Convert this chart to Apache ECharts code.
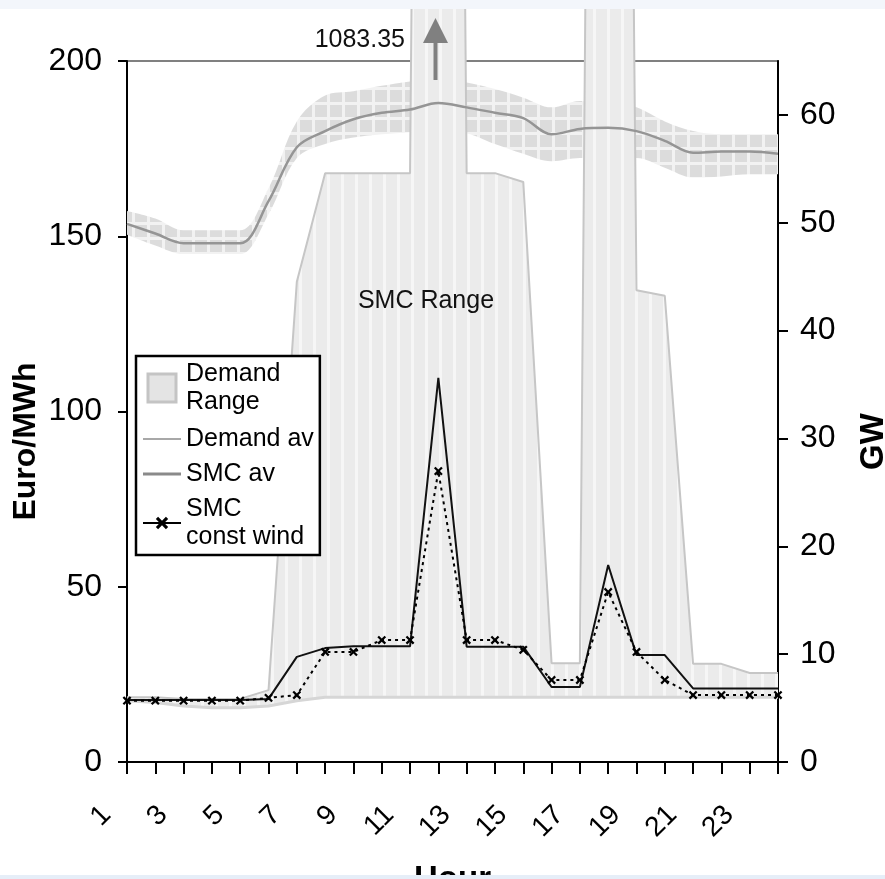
<!DOCTYPE html>
<html><head><meta charset="utf-8">
<script src="https://cdn.jsdelivr.net/npm/echarts@6/dist/echarts.min.js"></script>
<style>html,body{margin:0;padding:0;background:#fff}#c{width:885px;height:879px}</style>
</head><body><div id="c"></div>
<script>
const hours = ['1','2','3','4','5','6','7','8','9','10','11','12','13','14','15','16','17','18','19','20','21','22','23','24'];
const leftTicks = [0, 50, 100, 150, 200];
const rightTicks = [0, 10, 20, 30, 40, 50, 60];
// SMC range (Euro/MWh)
const smcRangeLow  = [17.5,17,16,15.5,15.5,16,17.5,18.5,18.5,18.5,18.5,18.5,18.5,18.5,18.5,18.5,18.5,18.5,18.5,18.5,18.5,18.5,18.5,18.5];
const smcRangeHigh = [18.5,18.5,18,18,18,20.5,137,168,168,168,168,1083.35,168,168,165.5,28.2,28.2,1000,134.6,133,28,28,25.4,25.4];
// SMC lines (Euro/MWh)
const smcAv        = [17.7,17.7,17.7,17.7,17.7,18,30,32.5,33,33,33,109.6,32.9,32.9,32.9,21.4,21.4,56.2,30.5,30.5,21,21,21,21];
const smcConstWind = [17.5,17.5,17.5,17.5,17.5,18.3,19.1,31.4,31.4,34.8,34.8,83,34.8,34.8,32,23.4,23.4,48.5,31.4,23.4,19.1,19.1,19.1,19.1];
// Demand (GW)
const demandAv   = [49.9,49.0,48.1,48.1,48.1,52.0,57.0,58.5,59.6,60.2,60.5,61.1,60.7,60.2,59.7,58.2,58.7,58.8,58.5,57.6,56.5,56.6,56.6,56.4];
const demandLow  = [48.9,47.9,47.1,47.1,47.1,50.8,56.0,57.3,57.9,58.2,58.4,58.5,58.3,57.3,56.4,55.7,56.0,56.0,56.0,55.1,54.2,54.3,54.5,54.5];
const demandHigh = [51.1,50.4,49.3,49.3,49.3,53.2,59.4,61.8,62.2,62.7,63.1,63.5,63.0,62.4,61.6,60.7,61.3,61.3,60.7,59.4,58.5,58.2,58.2,58.2];

const FONT = '"Liberation Sans", Arial, Helvetica, sans-serif';

function stripePattern(){
  const c = document.createElement('canvas'); c.width = 14; c.height = 4;
  const g = c.getContext('2d');
  g.fillStyle = '#ebebeb'; g.fillRect(0,0,14,4);
  g.fillStyle = '#f6f6f6'; g.fillRect(5,0,3,4);
  return c;
}
function checkerPattern(){
  const c = document.createElement('canvas'); c.width = 15; c.height = 15;
  const g = c.getContext('2d');
  g.fillStyle = '#f2f2f2'; g.fillRect(0,0,15,15);
  g.fillStyle = '#dcdcdc'; g.fillRect(0,0,12,12);
  return c;
}
const xSymbol = 'path://M0,0M20,20M4.5,6.5L6.5,4.5L10,8L13.5,4.5L15.5,6.5L12,10L15.5,13.5L13.5,15.5L10,12L6.5,15.5L4.5,13.5L8,10Z';

const chart = echarts.init(document.getElementById('c'), null, {renderer:'canvas'});
const option = {
  animation: false,
  backgroundColor: '#fff',
  textStyle: { fontFamily: FONT },
  grid: { left: 127, right: 107, top: 61, bottom: 117, show: true, borderColor: '#808080', borderWidth: 2,
          containLabel: false, outerBoundsMode: 'none' },
  legend: {
    orient: 'vertical', left: 136, top: 356,
    backgroundColor: '#fff', borderColor: '#000', borderWidth: 2.5, borderRadius: 0,
    padding: [2, 6, 4, 6], itemGap: 7, itemWidth: 38, itemHeight: 28,
    textStyle: { fontFamily: FONT, fontSize: 25, color: '#000', lineHeight: 28 },
    formatter: function(name){ return ({'Demand Range':'Demand\nRange','SMC const wind':'SMC\nconst wind'})[name] || name; },
    data: [
      { name: 'Demand Range', icon: 'path://M0,0H10V10H0Z', itemStyle: { color: '#e4e4e4', borderColor: '#c4c4c4', borderWidth: 3 },
        textStyle: { fontFamily: FONT, fontSize: 25, color: '#000', lineHeight: 28, padding: [0, 0, 4, 0] } },
      { name: 'Demand av', icon: 'path://M0,0H38V2H0Z', itemStyle: { color: '#a8a8a8', borderWidth: 0 } },
      { name: 'SMC av', icon: 'path://M0,0H38V3H0Z', itemStyle: { color: '#8a8a8a', borderWidth: 0 } },
      { name: 'SMC const wind', lineStyle: { color: '#000', width: 2, type: 'solid' } }
    ]
  },
  xAxis: {
    type: 'category', data: hours, boundaryGap: false,
    axisLine: { show: true, lineStyle: { color: '#000', width: 2 } },
    axisTick: { show: true, interval: 0, length: 12, lineStyle: { color: '#000', width: 2 } },
    axisLabel: { interval: 1, rotate: 45, margin: 28, padding: [0, 29, 0, 0], fontSize: 28, color: '#000', fontFamily: FONT },
    name: 'Hour', nameLocation: 'middle', nameGap: 101, nameMoveOverlap: false,
    nameTextStyle: { fontSize: 33, fontWeight: 'bold', color: '#000', fontFamily: FONT }
  },
  yAxis: [
    {
      type: 'value', min: 0, max: 200, interval: 50, position: 'left',
      axisLine: { show: true, lineStyle: { color: '#000', width: 2 } },
      axisTick: { show: true, length: 9, lineStyle: { color: '#000', width: 2 } },
      axisLabel: { margin: 25, fontSize: 32, color: '#000', fontFamily: FONT },
      splitLine: { show: false },
      name: 'Euro/MWh', nameLocation: 'middle', nameGap: 85, nameMoveOverlap: false,
      nameTextStyle: { fontSize: 32, fontWeight: 'bold', color: '#000', fontFamily: FONT, padding: [0, 60, 0, 0] }
    },
    {
      type: 'value', min: 0, max: 65, interval: 10, position: 'right',
      axisLine: { show: true, lineStyle: { color: '#000', width: 2 } },
      axisTick: { show: true, length: 10, lineStyle: { color: '#000', width: 2 }, customValues: rightTicks },
      axisLabel: { margin: 22, fontSize: 32, color: '#000', fontFamily: FONT, customValues: rightTicks },
      splitLine: { show: false },
      name: 'GW', nameLocation: 'middle', nameGap: 79, nameMoveOverlap: false,
      nameTextStyle: { fontSize: 33, fontWeight: 'bold', color: '#000', fontFamily: FONT, padding: [0, 60, 0, 0] }
    }
  ],
  series: [
    { name: 'demandBase', type: 'line', yAxisIndex: 1, stack: 'dem', data: demandLow, symbol: 'none', smooth: 0.35,
      lineStyle: { width: 0, opacity: 0 }, silent: true },
    { name: 'Demand Range', type: 'line', yAxisIndex: 1, stack: 'dem',
      data: demandLow.map((v, i) => +(demandHigh[i] - v).toFixed(2)), symbol: 'none', smooth: 0.35,
      lineStyle: { width: 0, opacity: 0 },
      areaStyle: { color: { image: checkerPattern(), repeat: 'repeat' }, opacity: 1 } },
    { name: 'smcBase', type: 'line', yAxisIndex: 0, stack: 'smc', data: smcRangeLow, symbol: 'none',
      lineStyle: { color: '#d6d6d6', width: 3 }, silent: true },
    { name: 'SMC Range', type: 'line', yAxisIndex: 0, stack: 'smc', clip: false,
      data: smcRangeLow.map((v, i) => +(smcRangeHigh[i] - v).toFixed(2)), symbol: 'none',
      lineStyle: { color: '#c6c6c6', width: 2 },
      areaStyle: { color: { image: stripePattern(), repeat: 'repeat' }, opacity: 1 } },
    { name: 'Demand av', type: 'line', yAxisIndex: 1, data: demandAv, symbol: 'none', smooth: 0.35,
      lineStyle: { color: '#959595', width: 2.5 } },
    { name: 'SMC av', type: 'line', yAxisIndex: 0, data: smcAv, symbol: 'none',
      lineStyle: { color: '#111', width: 2 } },
    { name: 'SMC const wind', type: 'line', yAxisIndex: 0, data: smcConstWind, symbol: xSymbol, symbolSize: 16,
      showAllSymbol: true, itemStyle: { color: '#000' }, lineStyle: { color: '#000', width: 2, type: [3, 4] } }
  ],
  graphic: [
    { type: 'text', z: 100, x: 405, y: 40, style: { text: '1083.35', align: 'right', verticalAlign: 'middle', font: '25px ' + FONT, fill: '#111' } },
    { type: 'polygon', z: 100, shape: { points: [[423, 43], [448, 43], [435.5, 18]] }, style: { fill: '#808080' } },
    { type: 'rect', z: 100, shape: { x: 433.5, y: 42, width: 4, height: 38 }, style: { fill: '#808080' } },
    { type: 'text', z: 100, x: 426, y: 301, style: { text: 'SMC Range', align: 'center', verticalAlign: 'middle', font: '25px ' + FONT, fill: '#111' } },
    { type: 'rect', z: 200, shape: { x: 0, y: 0, width: 885, height: 9 }, style: { fill: '#f3f6fb' } },
    { type: 'rect', z: 200, shape: { x: 0, y: 875, width: 885, height: 4 }, style: { fill: '#e6eef8' } }
  ]
};
chart.setOption(option);
</script>
</body></html>
